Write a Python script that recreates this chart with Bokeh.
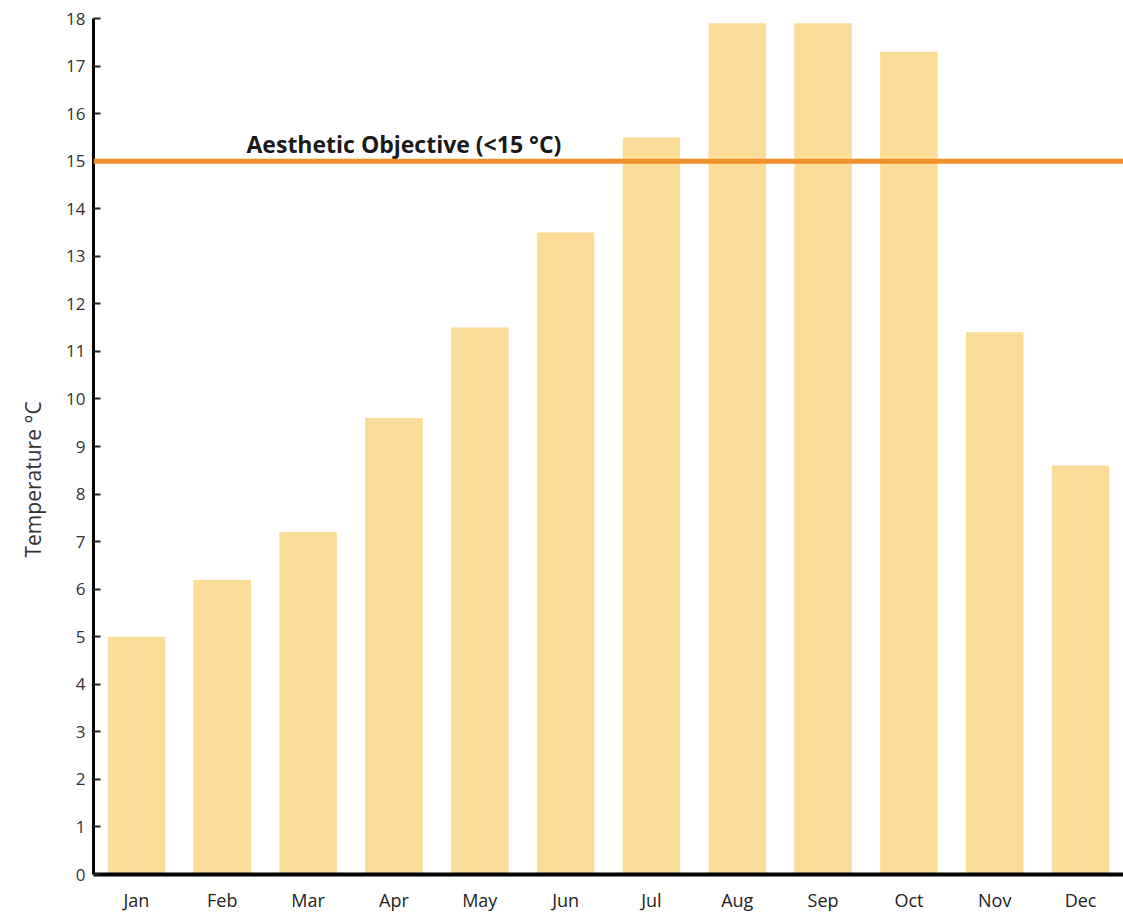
from bokeh.plotting import figure
from bokeh.models import Span, FactorRange, Range1d, FixedTicker, Title
from bokeh.core.properties import value
from bokeh.embed import file_html
from bokeh.resources import INLINE

months = ["Jan", "Feb", "Mar", "Apr", "May", "Jun", "Jul", "Aug", "Sep", "Oct", "Nov", "Dec"]
temps = [5.0, 6.2, 7.2, 9.6, 11.5, 13.5, 15.5, 17.9, 17.9, 17.3, 11.4, 8.6]
objective = 15
objective_label = "Aesthetic Objective (<15 °C)"
label_month = "Apr"
y_title = "Temperature °C"
y_ticks = list(range(0, 19))

FONT = "Open Sans"

p = figure(x_range=FactorRange(factors=months), y_range=Range1d(0, 18),
           width=1123, height=914, output_backend="svg", toolbar_location=None,
           min_border_left=93, min_border_top=18, min_border_right=0, min_border_bottom=0)
p.outline_line_color = None
p.xgrid.grid_line_color = None
p.ygrid.grid_line_color = None
p.background_fill_color = "white"

p.vbar(x=months, top=temps, width=0.67, fill_color="#FDDC98", line_color=None)

span = Span(location=objective, dimension="width", line_color="#F0902A", line_width=5)
p.add_layout(span)
p.text(x=[label_month], y=[objective], text=[objective_label], text_align="center",
       text_baseline="middle", x_offset=10, y_offset=-17, text_font=value(FONT),
       text_font_style="bold", text_font_size="23px", text_color="#1a1a1a")

# y-axis title, set a little below the middle as in the original
ytitle = Title(text=y_title, align="left", offset=317, standoff=33,
               text_font=FONT, text_font_style="normal", text_font_size="21px",
               text_color="#333333")
p.add_layout(ytitle, "left")

p.yaxis.ticker = FixedTicker(ticks=y_ticks)
p.yaxis.axis_line_width = 3
p.yaxis.axis_line_color = "black"
p.yaxis.major_tick_in = 7
p.yaxis.major_tick_out = 0
p.yaxis.major_tick_line_width = 2
p.yaxis.major_tick_line_color = "#222222"
p.yaxis.minor_tick_line_color = None
p.yaxis.major_label_text_font = FONT
p.yaxis.major_label_text_font_size = "17px"
p.yaxis.major_label_text_color = "#333333"
p.yaxis.major_label_standoff = 8

p.xaxis.axis_line_width = 4
p.xaxis.axis_line_color = "black"
p.xaxis.major_tick_line_color = None
p.xaxis.minor_tick_line_color = None
p.xaxis.major_label_text_font = FONT
p.xaxis.major_label_text_font_size = "18px"
p.xaxis.major_label_text_color = "#222222"
p.xaxis.major_label_standoff = 7

open("out.html", "w").write(file_html(p, INLINE))
